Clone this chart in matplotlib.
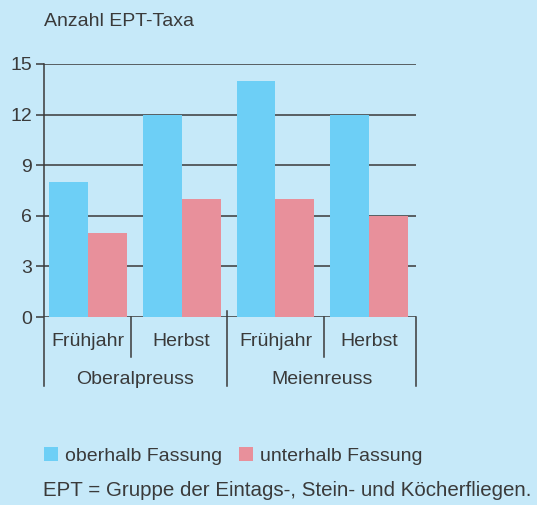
import matplotlib
matplotlib.use("Agg")
import matplotlib.pyplot as plt
import matplotlib.transforms as mtransforms
from matplotlib.patches import Patch
import numpy as np

# ---- data ----
categories = ["Frühjahr", "Herbst", "Frühjahr", "Herbst"]
groups = ["Oberalpreuss", "Meienreuss"]
oberhalb = [8, 12, 14, 12]
unterhalb = [5, 7, 7, 6]
series_names = ["oberhalb Fassung", "unterhalb Fassung"]
yticks = [0, 3, 6, 9, 12, 15]
ylabel = "Anzahl EPT-Taxa"
footnote = "EPT = Gruppe der Eintags-, Stein- und Köcherfliegen."

# ---- style ----
BG = "#c6e9f9"
BLUE = "#6dcff6"
PINK = "#e8909b"
TXT = "#3a3a3a"
LINE = "#3a3a3a"
plt.rcParams["font.family"] = ["Liberation Sans", "DejaVu Sans"]
FS = 14

W, H = 537, 505
fig = plt.figure(figsize=(W / 100, H / 100), dpi=100, facecolor=BG)
ax_left, ax_right, ax_top, ax_bot = 44, 416, 64, 317
ax = fig.add_axes([ax_left / W, 1 - ax_bot / H, (ax_right - ax_left) / W, (ax_bot - ax_top) / H])
ax.set_facecolor(BG)
ax.patch.set_alpha(0)

x = np.arange(len(categories))
w = 0.414
ax.bar(x - w / 2, oberhalb, width=w, color=BLUE, zorder=3, label=series_names[0])
ax.bar(x + w / 2, unterhalb, width=w, color=PINK, zorder=3, label=series_names[1])

for yv in yticks:
    ax.axhline(yv, color=LINE, lw=1.1, zorder=1)

ax.set_ylim(0, 15)
ax.set_xlim(-0.47, 3.5)
ax.set_yticks(yticks)
ax.set_yticklabels([str(v) for v in yticks], fontsize=FS, color=TXT)
ax.tick_params(axis="y", direction="out", length=5.5, width=1.1, color=LINE, pad=3)
ax.set_xticks([])
for s in ["top", "right", "bottom", "left"]:
    ax.spines[s].set_visible(False)

trans = mtransforms.blended_transform_factory(ax.transData, ax.transAxes)
px = 1.0 / (ax_bot - ax_top)
x0 = ax.get_xlim()[0]
ax.plot([x0, x0], [1, -(386 - ax_bot) * px], transform=trans, color=LINE, lw=1.1, clip_on=False, zorder=4)
ax.plot([0.46, 0.46], [0, -(357 - ax_bot) * px], transform=trans, color=LINE, lw=1.1, clip_on=False)
ax.plot([2.52, 2.52], [0, -(357 - ax_bot) * px], transform=trans, color=LINE, lw=1.1, clip_on=False)
ax.plot([1.48, 1.48], [(ax_bot - 311) * px, -(386 - ax_bot) * px], transform=trans, color=LINE, lw=1.1, clip_on=False, zorder=4)
ax.plot([3.5, 3.5], [0, -(386 - ax_bot) * px], transform=trans, color=LINE, lw=1.1, clip_on=False)

for xi, c in zip(x, categories):
    ax.text(xi, -(342 - ax_bot) * px, c, transform=trans, ha="center", va="center", fontsize=FS, color=TXT)
for gi, g in enumerate(groups):
    ax.text(gi * 2 + 0.5, -(379 - ax_bot) * px, g, transform=trans, ha="center", va="center", fontsize=FS, color=TXT)

fig.text(44 / W, 1 - 21 / H, ylabel, ha="left", va="center", fontsize=FS, color=TXT)

handles = [Patch(facecolor=BLUE, edgecolor="none"), Patch(facecolor=PINK, edgecolor="none")]
fig.legend(handles, series_names, loc="center left", bbox_to_anchor=(36 / W, 1 - 456 / H), ncol=2,
           frameon=False, fontsize=FS, labelcolor=TXT, handlelength=0.75, handleheight=0.75,
           handletextpad=0.35, columnspacing=0.85, borderaxespad=0)
fig.text(43 / W, 1 - 490 / H, footnote, ha="left", va="center", fontsize=14.75, color=TXT)

fig.savefig("out.png", dpi=100, facecolor=BG)
